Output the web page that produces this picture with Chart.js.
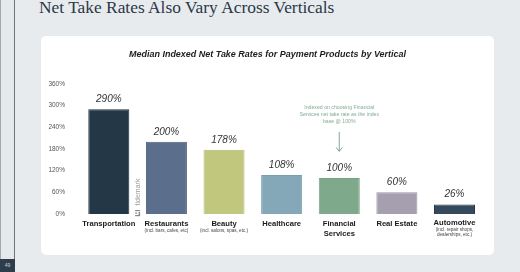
<!DOCTYPE html>
<html>
<head>
<meta charset="utf-8">
<script src="https://cdn.jsdelivr.net/npm/chart.js@4.4.1/dist/chart.umd.min.js"></script>
<style>
  html, body { margin: 0; padding: 0; }
  body { width: 520px; height: 272px; background: #e8ebee; position: relative; overflow: hidden; }
  #strip { position: absolute; left: 0; top: 0; width: 13px; height: 259px; background: #e6e9ec; border-left: 1px solid #a4a9ad; border-right: 1px solid #6f767c; }
  #pagenum { position: absolute; left: 0; top: 259px; width: 15px; height: 13px; background: #2e3d4c; color: #c9d0d6; font: 5px "Liberation Sans", sans-serif; text-align: center; line-height: 13px; }
  #heading { position: absolute; left: 39px; top: -1px; font: 17.4px "Liberation Serif", serif; line-height: 17px; color: #2b3847; white-space: nowrap; }
  #card { position: absolute; left: 41px; top: 36px; width: 453px; height: 219px; background: #ffffff; border-radius: 5px; }
  #c { position: absolute; left: 0; top: 0; }
</style>
</head>
<body>
<div id="strip"></div>
<div id="pagenum">49</div>
<div id="heading">Net Take Rates Also Vary Across Verticals</div>
<div id="card"><canvas id="c" width="453" height="219"></canvas></div>
<script>
// ---- data ----
const categories = ["Transportation", "Restaurants", "Beauty", "Healthcare", "Financial Services", "Real Estate", "Automotive"];
const mainLabels = [["Transportation"], ["Restaurants"], ["Beauty"], ["Healthcare"], ["Financial", "Services"], ["Real Estate"], ["Automotive"]];
const subLabels = [[], ["(incl. bars, cafes, etc)"], ["(incl. salons, spas, etc.)"], [], [], [], ["(incl. repair shops,", "dealerships, etc.)"]];
const values = [290, 200, 178, 108, 100, 60, 26];
const valueLabels = ["290%", "200%", "178%", "108%", "100%", "60%", "26%"];
const yTicks = [0, 60, 120, 180, 240, 300, 360];
const chartTitle = "Median Indexed Net Take Rates for Payment Products by Vertical";
const noteLines = ["Indexed on choosing Financial", "Services net take rate as the index", "base @ 100%"];
const noteCategory = "Financial Services";
const watermark = "tidemark";

// ---- styles ----
const barColors = ["#243746", "#5b6f8d", "#c1c87e", "#84a8b8", "#7fa98b", "#a59faf", "#34495b"];
const barBorders = ["#1b2b38", "#4d6180", "#b3ba70", "#77a0b0", "#74a182", "#9a94a6", "#263848"];
const noteColor = "#83ab92";

const overlay = {
  id: "overlay",
  afterDatasetsDraw(chart) {
    const ctx = chart.ctx;
    const meta = chart.getDatasetMeta(0);
    ctx.save();
    // chart title
    ctx.fillStyle = "#1e1e1e";
    ctx.textAlign = "center";
    ctx.textBaseline = "middle";
    let fs = 11;
    ctx.font = `italic bold ${fs}px "Liberation Sans"`;
    const w = ctx.measureText(chartTitle).width;
    fs = fs * 277 / w;
    ctx.font = `italic bold ${fs}px "Liberation Sans"`;
    ctx.fillText(chartTitle, chart.width / 2, 19);

    // value labels
    ctx.font = 'italic 10px "Liberation Sans"';
    ctx.fillStyle = "#333333";
    meta.data.forEach((bar, i) => {
      ctx.fillText(valueLabels[i], bar.x, bar.y - 10);
    });

    // category labels
    meta.data.forEach((bar, i) => {
      const lines = mainLabels[i];
      const subs = subLabels[i];
      let yy = chart.chartArea.bottom + 10;
      if (subs.length > 1) yy -= 1.5;
      ctx.fillStyle = "#1a1a1a";
      ctx.font = 'bold 7.6px "Liberation Sans"';
      lines.forEach((t, k) => { ctx.fillText(t, bar.x, yy + k * 10); });
      ctx.fillStyle = "#444444";
      ctx.font = '4.6px "Liberation Sans"';
      let sy = yy + 7.2;
      if (subs.length > 1) sy = yy + 6.8;
      subs.forEach((t, k) => { ctx.fillText(t, bar.x, sy + k * 5); });
    });

    // annotation
    const ni = categories.indexOf(noteCategory);
    const nx = meta.data[ni].x;
    ctx.fillStyle = noteColor;
    ctx.font = '5.2px "Liberation Sans"';
    noteLines.forEach((t, k) => ctx.fillText(t, nx, 72 + k * 7));
    ctx.strokeStyle = noteColor;
    ctx.lineWidth = 1;
    ctx.beginPath();
    ctx.moveTo(nx, 96); ctx.lineTo(nx, 115);
    ctx.moveTo(nx - 3, 111.5); ctx.lineTo(nx, 115.5); ctx.lineTo(nx + 3, 111.5);
    ctx.stroke();

    // watermark
    const wx = (meta.data[0].x + meta.data[1].x) / 2;
    ctx.save();
    ctx.translate(wx, 156);
    ctx.rotate(-Math.PI / 2);
    ctx.fillStyle = "#9a9a9a";
    ctx.font = '7px "Liberation Sans"';
    ctx.fillText(watermark, 0, 0);
    ctx.restore();
    ctx.fillStyle = "#8a8a8a";
    ctx.fillRect(wx - 2.5, 174, 5, 1.2);
    ctx.fillRect(wx - 2.5, 176.5, 2, 1.2);
    ctx.fillRect(wx - 2.5, 179, 5, 1.2);
    ctx.fillRect(wx + 1, 176, 1.5, 3);
    ctx.restore();
  }
};

new Chart(document.getElementById("c"), {
  type: "bar",
  data: {
    labels: categories,
    datasets: [{
      data: values,
      backgroundColor: barColors,
      borderColor: barBorders,
      borderWidth: 1,
      categoryPercentage: 1,
      barPercentage: 0.712
    }]
  },
  options: {
    responsive: false,
    animation: false,
    devicePixelRatio: 1,
    layout: { padding: { top: 48, bottom: 41, left: 0, right: 10.7 } },
    plugins: { legend: { display: false }, tooltip: { enabled: false }, title: { display: false } },
    scales: {
      x: { display: false },
      y: {
        min: 0, max: 360,
        afterBuildTicks(scale) { scale.ticks = yTicks.map(v => ({ value: v })); },
        afterFit(scale) { scale.width = 39; },
        grid: { display: false },
        border: { display: false },
        ticks: {
          padding: 7,
          color: "#555555",
          font: { family: "Liberation Sans", size: 6.5 },
          callback: v => v + "%"
        }
      }
    }
  },
  plugins: [overlay]
});
</script>
</body>
</html>
